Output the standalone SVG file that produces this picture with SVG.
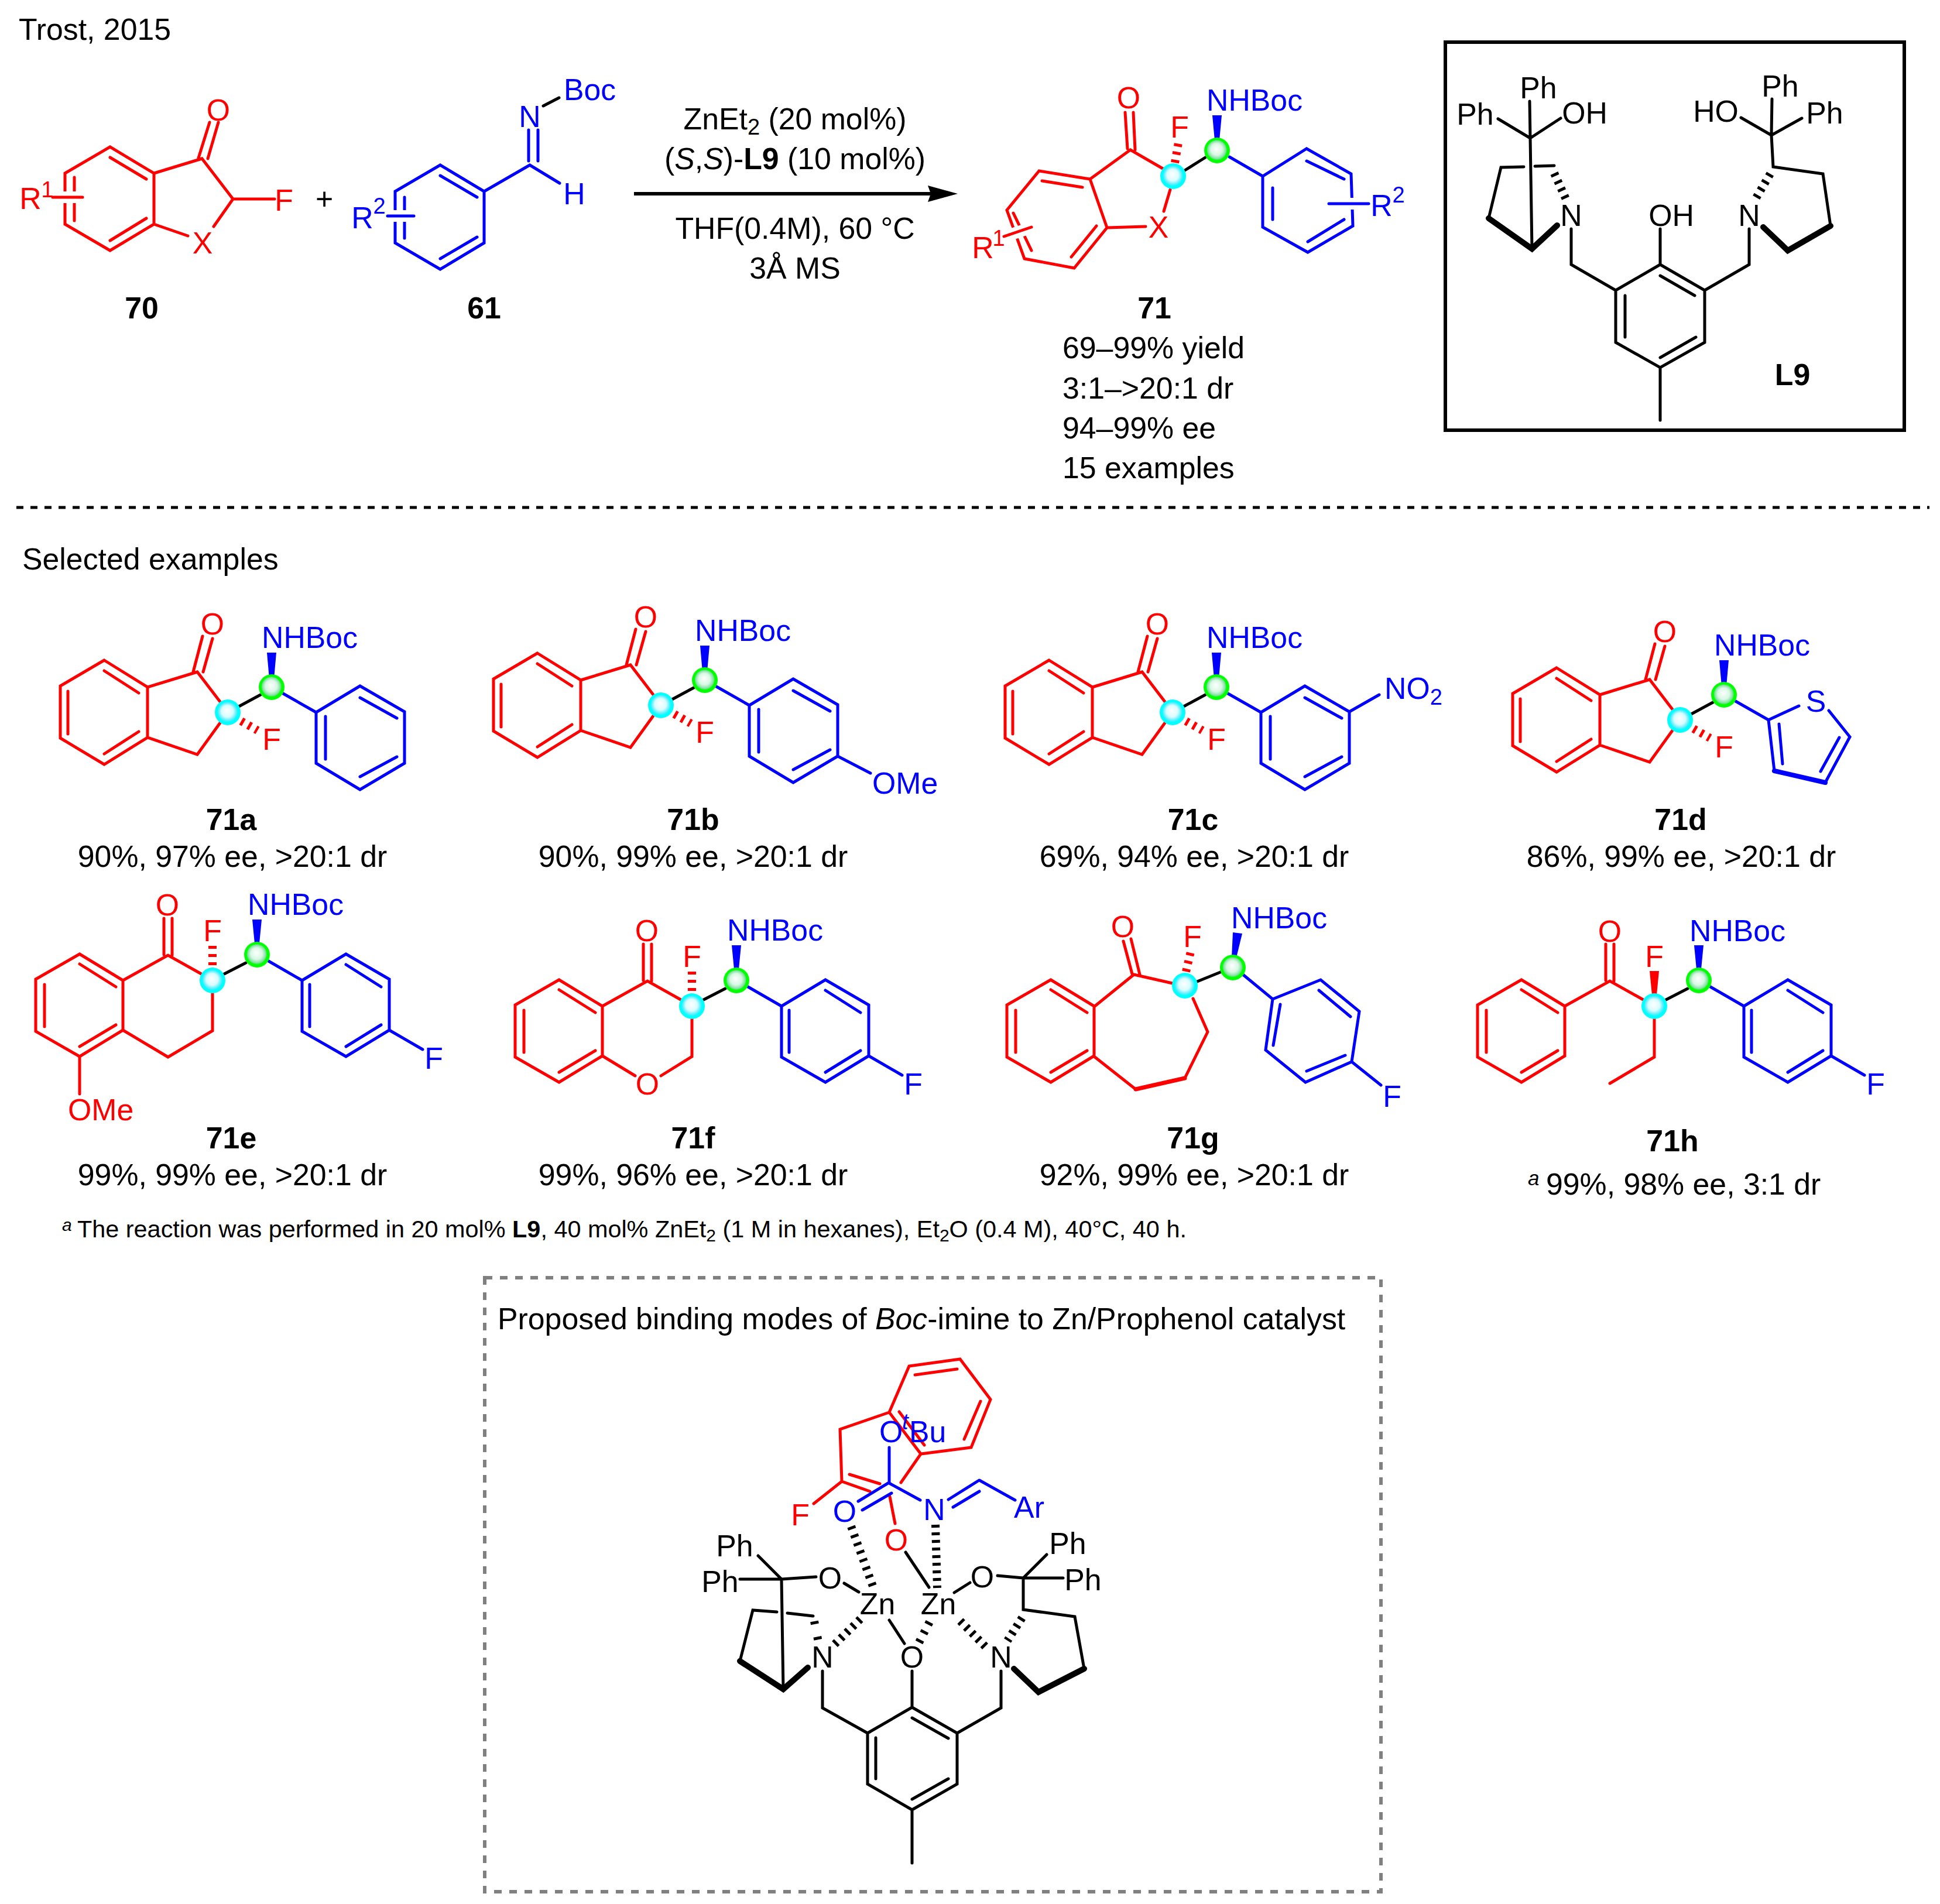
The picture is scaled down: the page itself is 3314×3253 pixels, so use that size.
<svg xmlns="http://www.w3.org/2000/svg" width="3314" height="3253" viewBox="0 0 3314 3253">
<style>
text{font-family:"Liberation Sans",Arial,sans-serif;font-size:51.8px;fill:#000}
.m{text-anchor:middle}
.B{font-weight:bold}
.i{font-style:italic}
.tr{fill:#f00}
.tb{fill:#00f}
.s{font-size:38px}
.fn{font-size:41.4px}
.fs{font-size:30px}
.l{fill:none;stroke-width:5;stroke-linejoin:miter;stroke-linecap:round}
.r{stroke:#f00}
.u{stroke:#00f}
.k{stroke:#000}
.x{fill:none;stroke:#fff;stroke-width:20}
.bd{stroke-width:10}
.h{fill:none;stroke-width:14;stroke-dasharray:5 9}
</style>
<defs>
<radialGradient id="gc" cx="0.5" cy="0.5" r="0.5" fx="0.47" fy="0.42"><stop offset="0" stop-color="#fff"/><stop offset="0.45" stop-color="#d8fcff"/><stop offset="0.68" stop-color="#60eeff"/><stop offset="0.8" stop-color="#0ff"/></radialGradient>
<radialGradient id="gg" cx="0.5" cy="0.5" r="0.5" fx="0.47" fy="0.42"><stop offset="0" stop-color="#fff"/><stop offset="0.45" stop-color="#d8f8e4"/><stop offset="0.7" stop-color="#80e0a0"/><stop offset="0.8" stop-color="#0f0"/></radialGradient>
<g id="ind">
<path class="l r" d="M178,1128L252,1174L252,1260L178,1306L103,1261L103,1172ZM178,1146L237,1184M116,1181L116,1254M178,1288L237,1250M252,1174L337,1148L376,1199M252,1260L337,1289L376,1235M330,1148L346,1087M347,1148L363,1091"/>
<path class="h r" d="M412,1232L440,1248"/>
<path class="l k" d="M408,1207L445,1187"/>
<path class="l u" d="M482,1184L540,1217"/>
<path fill="#00f" d="M460,1160L456,1115L472,1115L468,1160Z"/>
<circle cx="389" cy="1217" r="22" fill="url(#gc)"/>
<circle cx="464" cy="1174" r="22" fill="url(#gg)"/>
</g>
<path id="ph" class="l u" d="M540,1217L615,1172L691,1216L691,1304L615,1349L540,1304ZM615,1192L678,1227M556,1224L556,1297M615,1327L678,1293"/>
<g id="six">
<path class="l r" d="M136,1630L210,1675L210,1760L136,1805L61,1762L61,1673ZM136,1647L198,1686M76,1682L76,1754M136,1788L198,1751M210,1675L287,1632L344,1664M280,1569L280,1631M294,1569L294,1632"/>
<path class="l k" d="M383,1664L420,1645"/>
<path class="l u" d="M457,1641L516,1675"/>
<path fill="#00f" d="M435,1612L431,1571L447,1571L443,1612Z"/>
</g>
<g id="dots"><circle cx="363" cy="1675" r="22" fill="url(#gc)"/><circle cx="439" cy="1631" r="22" fill="url(#gg)"/></g>
<path id="fph" class="l u" d="M516,1675L591,1630L665,1673L665,1760L591,1805L516,1762ZM591,1648L651,1686M529,1682L529,1754M591,1788L651,1751M665,1760L722,1793"/>
</defs>

<text x="32" y="68">Trost, 2015</text>

<g id="m70">
<path class="l r" d="M188,251L263,296L263,383L188,428L111,383L111,296ZM188,269L250,306M127,303L127,377M188,411L250,373M263,296L345,271L398,340L469,340M398,340L365,387M263,383L321,403M339,270L358,209M355,271L373,209"/>
<path class="x" d="M85,337L146,337"/>
<path class="l r" d="M90,337L141,337"/>
<text class="m tr" x="373" y="206">O</text><text class="m tr" x="485" y="360">F</text><text class="m tr" x="346" y="433">X</text>
<text class="m tr" x="52" y="357">R</text><text class="m tr s" x="81" y="337">1</text>
<text class="m B" x="242" y="544">70</text>
</g>
<text id="plus" class="m" x="554" y="358">+</text>
<g id="m61">
<path class="l u" d="M752,282L827,327L827,415L752,460L675,415L675,327ZM752,300L815,337M691,337L691,407M752,442L815,405M827,327L905,282L956,313M903,275L903,222M919,275L919,222"/>
<path class="l k" d="M928,181L955,167"/>
<path class="x" d="M657,369L712,369"/>
<path class="l u" d="M662,369L707,369"/>
<text class="m tb" x="905" y="217">N</text><text class="tb" x="963" y="171">Boc</text><text class="m tb" x="981" y="349">H</text>
<text class="m tb" x="619" y="390">R</text><text class="m tb s" x="648" y="365">2</text>
<text class="m B" x="827" y="544">61</text>
</g>
<g id="arrow">
<path class="k" stroke-width="6" fill="none" d="M1083,331L1590,331"/>
<path d="M1636,331L1585,317L1590,331L1585,345Z"/>
<text class="m" x="1358" y="221">ZnEt<tspan class="s" dy="9">2</tspan><tspan dy="-9"> (20 mol%)</tspan></text>
<text class="m" x="1358" y="289">(<tspan class="i">S</tspan>,<tspan class="i">S</tspan>)-<tspan class="B">L9</tspan> (10 mol%)</text>
<text class="m" x="1358" y="408">THF(0.4M), 60 °C</text>
<text class="m" x="1358" y="476">3Å MS</text>
</g>
<g id="m71">
<path class="l r" d="M1775,292L1862,306L1891,389L1835,458L1750,442L1720,359ZM1780,309L1849,320M1830,439L1873,386M1731,364L1762,428M1862,306L1931,256L1988,289M1922,192L1926,254M1936,192L1939,256M1999,324L1988,361M1891,389L1957,387"/>
<path class="x" d="M1711,406L1767,387"/>
<path class="l r" d="M1715,404L1762,388"/>
<path class="h r" d="M2007,278L2013,244"/>
<path class="l k" d="M2024,291L2059,269"/>
<path class="l u" d="M2100,268L2157,301L2232,254L2308,297L2311,386L2234,431L2157,388L2157,301M2232,275L2296,306M2174,321L2174,375M2234,413L2296,375"/>
<path class="x" d="M2266,348L2338,348"/>
<path class="l u" d="M2270,348L2338,348"/>
<path fill="#00f" d="M2075,240L2071,197L2087,197L2083,240Z"/>
<circle cx="2004" cy="301" r="22" fill="url(#gc)"/><circle cx="2079" cy="257" r="22" fill="url(#gg)"/>
<text class="m tr" x="1928" y="185">O</text><text class="m tr" x="2015" y="235">F</text><text class="m tr" x="1979" y="406">X</text>
<text class="m tr" x="1679" y="441">R</text><text class="m tr s" x="1706" y="420">1</text>
<text class="tb" x="2061" y="189">NHBoc</text>
<text class="m tb" x="2360" y="369">R</text><text class="m tb s" x="2389" y="346">2</text>
<text class="m B" x="1972" y="544">71</text>
<text x="1815" y="612">69–99% yield</text><text x="1815" y="681">3:1–&gt;20:1 dr</text><text x="1815" y="749">94–99% ee</text><text x="1815" y="817">15 examples</text>
</g>
<g id="L9box">
<rect x="2469" y="72" width="784" height="663" fill="none" stroke="#000" stroke-width="6"/>
<path class="l k" d="M2836,452L2912,496L2912,585L2836,628L2760,585L2760,496ZM2836,471L2895,505M2776,505L2776,576M2836,611L2897,576M2836,628L2836,718M2836,452L2836,391M2760,496L2684,452L2684,391M2912,496L2988,452L2988,391M2543,373L2564,286L2603,285M2622,284L2655,283M2614,236L2617,425M2614,236L2559,203M2614,236L2666,202M2614,236L2613,173M3026,231L3027,169M3026,231L2974,201M3026,231L3078,202M3026,231L3029,285L3114,297L3127,386"/>
<path class="l k bd" d="M2660,385L2617,425L2543,373M3127,386L3054,428L3012,388"/>
<path class="h k" d="M2655,296L2675,340M3024,297L2997,343"/>
<text class="m" x="2855" y="386">OH</text><text class="m" x="2684" y="386">N</text><text class="m" x="2988" y="386">N</text>
<text class="m" x="2520" y="213">Ph</text><text class="m" x="2707" y="211">OH</text><text class="m" x="2628" y="168">Ph</text>
<text class="m" x="3041" y="165">Ph</text><text class="m" x="2931" y="208">HO</text><text class="m" x="3117" y="211">Ph</text>
<text class="m B" x="3062" y="658">L9</text>
</g>
<path id="sep" fill="none" stroke="#000" stroke-width="5" stroke-dasharray="12 12" d="M28,867L3296,867"/>
<text x="38" y="973">Selected examples</text>

<g id="c71a">
<use href="#ind"/><use href="#ph"/>
<text class="m tr" x="363" y="1084">O</text><text class="m tr" x="464" y="1281">F</text><text class="tb" x="447" y="1107">NHBoc</text>
<text class="m B" x="395" y="1418">71a</text><text class="m" x="397" y="1481">90%, 97% ee, &gt;20:1 dr</text>
</g>
<g id="c71b">
<use href="#ind" transform="translate(740,-12)"/><use href="#ph" transform="translate(740,-12)"/>
<path class="l u" d="M1431,1292L1487,1321"/>
<text class="m tr" x="1103" y="1072">O</text><text class="m tr" x="1204" y="1269">F</text><text class="tb" x="1187" y="1095">NHBoc</text><text class="tb" x="1490" y="1356">OMe</text>
<text class="m B" x="1184" y="1418">71b</text><text class="m" x="1184" y="1481">90%, 99% ee, &gt;20:1 dr</text>
</g>
<g id="c71c">
<use href="#ind" transform="translate(1614,0)"/><use href="#ph" transform="translate(1614,0)"/>
<path class="l u" d="M2305,1216L2356,1187"/>
<text class="m tr" x="1977" y="1084">O</text><text class="m tr" x="2078" y="1281">F</text><text class="tb" x="2061" y="1107">NHBoc</text>
<text class="tb" x="2365" y="1194">NO<tspan class="s" dy="10">2</tspan></text>
<text class="m B" x="2038" y="1418">71c</text><text class="m" x="2040" y="1481">69%, 94% ee, &gt;20:1 dr</text>
</g>
<g id="c71d">
<use href="#ind" transform="translate(2481,13)"/>
<path class="l u" d="M3021,1230L3073,1206M3124,1214L3160,1259L3118,1337M3031,1317L3021,1230M3039,1237L3045,1305M3142,1260L3110,1318"/>
<path class="l u" style="stroke-width:8" d="M3118,1337L3031,1317"/>
<text class="m tr" x="2844" y="1097">O</text><text class="m tr" x="2945" y="1294">F</text><text class="tb" x="2928" y="1120">NHBoc</text><text class="m tb" x="3102" y="1216">S</text>
<text class="m B" x="2871" y="1418">71d</text><text class="m" x="2872" y="1481">86%, 99% ee, &gt;20:1 dr</text>
</g>

<g id="c71e">
<use href="#six"/><use href="#fph"/>
<path class="l r" d="M363,1696L363,1761L287,1806L210,1760M136,1805L136,1869"/>
<path class="h r" d="M363,1616L363,1650"/>
<use href="#dots"/>
<text class="m tr" x="286" y="1564">O</text><text class="m tr" x="363" y="1608">F</text><text class="tb" x="423" y="1563">NHBoc</text><text class="m tb" x="741" y="1826">F</text><text class="tr" x="116" y="1914">OMe</text>
<text class="m B" x="395" y="1962">71e</text><text class="m" x="397" y="2025">99%, 99% ee, &gt;20:1 dr</text>
</g>
<g id="c71f">
<use href="#six" transform="translate(819,44)"/><use href="#fph" transform="translate(819,44)"/>
<path class="l r" d="M1182,1740L1182,1805L1129,1838M1085,1838L1029,1804"/>
<path class="h r" d="M1182,1660L1182,1694"/>
<use href="#dots" transform="translate(819,44)"/>
<text class="m tr" x="1105" y="1608">O</text><text class="m tr" x="1182" y="1652">F</text><text class="tb" x="1242" y="1607">NHBoc</text><text class="m tb" x="1560" y="1870">F</text><text class="m tr" x="1106" y="1870">O</text>
<text class="m B" x="1184" y="1962">71f</text><text class="m" x="1184" y="2025">99%, 96% ee, &gt;20:1 dr</text>
</g>
<g id="c71g">
<path class="l r" d="M1795,1674L1869,1719L1869,1804L1795,1849L1720,1806L1720,1717ZM1795,1691L1857,1730M1735,1726L1735,1798M1795,1832L1857,1795M1869,1720L1937,1665L2003,1680M1919,1608L1934,1664M1932,1604L1947,1665M2038,1706L2063,1763L2024,1842M1940,1861L1869,1805"/>
<path class="l r" style="stroke-width:7" d="M2024,1842L1940,1861"/>
<path class="h r" d="M2026,1660L2034,1626"/>
<path class="l k" d="M2045,1677L2087,1660"/>
<path class="l u" d="M2122,1664L2174,1707L2256,1674L2322,1728L2309,1814L2230,1849L2162,1794L2174,1707M2253,1692L2307,1737M2187,1716L2175,1786M2298,1803L2232,1830M2309,1814L2359,1854"/>
<path fill="#00f" d="M2104,1636L2106,1593L2122,1595L2112,1636Z"/>
<circle cx="2024" cy="1684" r="22" fill="url(#gc)"/><circle cx="2106" cy="1653" r="22" fill="url(#gg)"/>
<text class="m tr" x="1918" y="1601">O</text><text class="m tr" x="2037" y="1618">F</text><text class="tb" x="2103" y="1586">NHBoc</text><text class="m tb" x="2378" y="1891">F</text>
<text class="m B" x="2038" y="1962">71g</text><text class="m" x="2040" y="2025">92%, 99% ee, &gt;20:1 dr</text>
</g>
<g id="c71h">
<use href="#six" transform="translate(2463,44)"/><use href="#fph" transform="translate(2463,44)"/>
<path class="l r" d="M2826,1741L2826,1806L2750,1851"/>
<path fill="#f00" d="M2818,1659L2834,1659L2830,1700L2822,1700Z"/>
<use href="#dots" transform="translate(2463,44)"/>
<text class="m tr" x="2750" y="1609">O</text><text class="m tr" x="2826" y="1652">F</text><text class="tb" x="2886" y="1608">NHBoc</text><text class="m tb" x="3204" y="1870">F</text>
<text class="m B" x="2857" y="1967">71h</text>
<text class="i" style="font-size:35px" x="2610" y="2025">a</text><text x="2641" y="2041">99%, 98% ee, 3:1 dr</text>
</g>
<g id="footnote">
<text class="i fs" x="106" y="2103">a</text>
<text class="fn" x="132" y="2114">The reaction was performed in 20 mol% <tspan class="B">L9</tspan>, 40 mol% ZnEt<tspan class="fs" dy="7">2</tspan><tspan dy="-7"> (1 M in hexanes), Et</tspan><tspan class="fs" dy="7">2</tspan><tspan dy="-7">O (0.4 M), 40°C, 40 h.</tspan></text>
</g>

<g id="binding">
<rect x="828" y="2183" width="1531" height="1049" fill="none" stroke="#808080" stroke-width="6" stroke-dasharray="13 13"/>
<text x="850" y="2271">Proposed binding modes of <tspan class="i">Boc</tspan>-imine to Zn/Prophenol catalyst</text>
<path class="l r" d="M1553,2334L1640,2322L1692,2391L1659,2473L1573,2484L1519,2413ZM1563,2349L1635,2339M1675,2394L1647,2459M1579,2469L1536,2412M1519,2413L1435,2442L1438,2531L1486,2548M1451,2519L1503,2535M1438,2531L1390,2569M1573,2484L1539,2533M1520,2557L1529,2603"/>
<path class="l u" d="M1519,2534L1519,2473M1466,2565L1517,2534M1473,2580L1523,2551M1519,2534L1572,2563M1620,2562L1671,2530M1628,2575L1673,2548M1673,2529L1734,2563"/>
<path class="h k" style="stroke-dasharray:5 9.7" d="M1454,2608L1491,2710"/>
<path class="h k" style="stroke-dasharray:5 8" d="M1598,2605L1601,2713"/>
<path class="h k" d="M1426,2809L1470,2766M1683,2813L1635,2764M1746,2764L1721,2803"/>
<path class="h k" style="stroke-dasharray:5 12" d="M1570,2806L1588,2771"/>
<path class="h k" style="stroke-dasharray:5 22" d="M1391,2770L1398,2805"/>
<path class="l k" d="M1547,2652L1587,2712M1467,2720L1442,2705M1394,2694L1335,2698L1264,2698M1335,2698L1295,2658M1335,2698L1338,2886M1264,2838L1286,2751L1327,2754M1345,2756L1389,2761M1630,2721L1657,2704M1704,2692L1748,2696L1816,2696M1748,2696L1788,2656M1748,2696L1748,2750L1836,2762L1852,2851M1545,2808L1519,2768M1558,2855L1558,2917M1405,2855L1405,2918L1482,2961L1558,2917L1635,2961L1710,2918L1710,2855M1635,2961L1635,3048L1558,3092L1482,3048L1482,2961M1558,2935L1620,2970M1496,2969L1496,3039M1558,3074L1620,3039M1558,3092L1558,3183"/>
<path class="l k bd" d="M1380,2849L1338,2886L1264,2838M1852,2851L1774,2891L1732,2851"/>
<text class="m tr" x="1367" y="2606">F</text><text class="m tr" x="1531" y="2649">O</text>
<text class="m tb" x="1443" y="2600">O</text><text class="m tb" x="1596" y="2597">N</text><text class="m tb" x="1758" y="2593">Ar</text>
<text class="tb" x="1502" y="2464">O</text><text class="i tb s" x="1541" y="2442">t</text><text class="tb" x="1553" y="2464">Bu</text>
<text class="m" x="1499" y="2758">Zn</text><text class="m" x="1603" y="2758">Zn</text>
<text class="m" x="1418" y="2714">O</text><text class="m" x="1678" y="2712">O</text><text class="m" x="1558" y="2849">O</text>
<text class="m" x="1405" y="2849">N</text><text class="m" x="1710" y="2849">N</text>
<text class="m" x="1230" y="2720">Ph</text><text class="m" x="1255" y="2659">Ph</text><text class="m" x="1850" y="2717">Ph</text><text class="m" x="1824" y="2655">Ph</text>
</g>
</svg>
